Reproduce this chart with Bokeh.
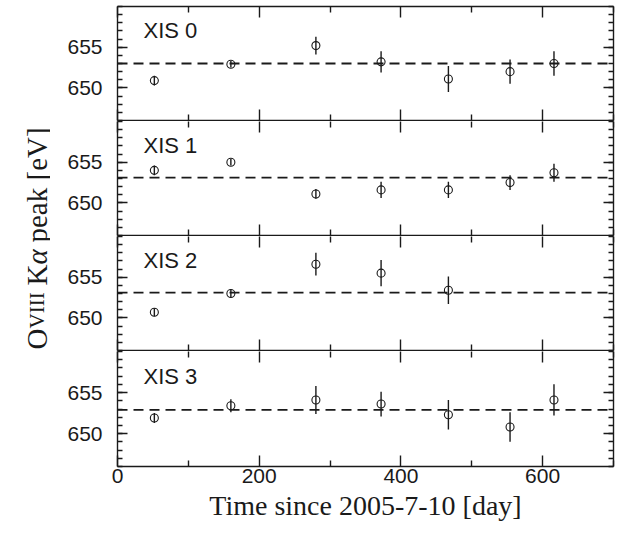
from math import pi
from bokeh.plotting import figure
from bokeh.layouts import row, column
from bokeh.models import ColumnDataSource, Span, Label, LinearAxis, FixedTicker, Range1d
from bokeh.embed import file_html
from bokeh.resources import INLINE

# ---------------- data ----------------
days = [52, 160, 280, 372, 467, 554, 616]
detectors = ["XIS 0", "XIS 1", "XIS 2", "XIS 3"]

xis0_peak = [650.9, 652.9, 655.2, 653.2, 651.1, 652.0, 653.0]
xis0_err = [0.6, 0.4, 1.1, 1.3, 1.6, 1.5, 1.5]
xis1_peak = [654.0, 655.0, 651.1, 651.6, 651.6, 652.5, 653.7]
xis1_err = [0.6, 0.4, 0.6, 1.0, 1.0, 0.9, 1.1]
xis2_peak = [650.7, 653.0, 656.6, 655.5, 653.4]
xis2_err = [0.5, 0.5, 1.4, 1.6, 1.7]
xis3_peak = [651.9, 653.4, 654.1, 653.6, 652.3, 650.8, 654.1]
xis3_err = [0.6, 0.8, 1.7, 1.5, 1.8, 1.8, 1.9]

mean_peak = [653.0, 653.1, 653.1, 652.9]

x_major = [0, 200, 400, 600]
x_minor = [100, 300, 500, 700]
y_major = [650, 655]
y_minor = list(range(646, 661))
x_lim = (0, 700)
y_lim = (646, 660)

series = [
    (xis0_peak, xis0_err),
    (xis1_peak, xis1_err),
    (xis2_peak, xis2_err),
    (xis3_peak, xis3_err),
]

# ---------------- layout constants ----------------
LABEL_W = 50
FRAME_W = 496
FRAME_H = 114
LEFT = 117 - LABEL_W
RIGHT = 618 - LABEL_W - LEFT - FRAME_W
INK = "#1a1a1a"
LW = 1.4
TW = 1.4

shared_x = Range1d(*x_lim)


def tick_only_axis(positions, length, draw_line):
    """Axis that only draws inward ticks (as minor ticks, so no labels)."""
    ax = LinearAxis(ticker=FixedTicker(ticks=[], minor_ticks=positions))
    ax.axis_line_color = INK if draw_line else None
    ax.axis_line_width = LW
    ax.major_tick_line_color = None
    ax.major_tick_in = 0
    ax.major_tick_out = 0
    ax.minor_tick_line_color = INK
    ax.minor_tick_line_width = TW
    ax.minor_tick_in = length
    ax.minor_tick_out = 0
    ax.major_label_standoff = 0
    return ax


def labelled_axis(ticker, major_in, minor_in):
    ax = LinearAxis(ticker=ticker)
    ax.axis_line_width = LW
    ax.axis_line_color = INK
    ax.major_tick_line_color = INK
    ax.minor_tick_line_color = INK
    ax.major_tick_line_width = TW
    ax.minor_tick_line_width = TW
    ax.major_tick_in = major_in
    ax.major_tick_out = 0
    ax.minor_tick_in = minor_in
    ax.minor_tick_out = 0
    ax.major_label_text_font = "Liberation Sans"
    ax.major_label_text_font_size = "21px"
    ax.major_label_text_color = INK
    return ax


panels = []
for i, (name, (peak, err), mean) in enumerate(zip(detectors, series, mean_peak)):
    first = i == 0
    last = i == len(detectors) - 1
    p = figure(frame_width=FRAME_W, frame_height=FRAME_H + (1 if last else 0),
               x_range=shared_x, y_range=Range1d(*y_lim),
               x_axis_location=None, y_axis_location=None,
               output_backend="svg", toolbar_location=None,
               min_border_left=LEFT, min_border_right=RIGHT,
               min_border_top=6 if first else 0,
               min_border_bottom=73 if last else 1,
               background_fill_color="white", border_fill_color="white",
               outline_line_color=None)
    p.grid.visible = False

    # left: labelled y axis
    left = labelled_axis(FixedTicker(ticks=y_major, minor_ticks=y_minor), 10, 5)
    left.major_label_standoff = 15
    p.add_layout(left, "left")

    # right: ticks only
    p.add_layout(tick_only_axis(y_major, 10, True), "right")
    p.add_layout(tick_only_axis(y_minor, 5, False), "right")

    # top: ticks only (line only on the very top panel)
    p.add_layout(tick_only_axis(x_major, 11, first), "above")
    p.add_layout(tick_only_axis(x_minor, 6, False), "above")

    # bottom
    if last:
        below = labelled_axis(FixedTicker(ticks=x_major, minor_ticks=x_minor), 11, 6)
        below.major_label_standoff = 2
        below.axis_label = "Time since 2005-7-10 [day]"
        below.axis_label_text_font = "Liberation Serif"
        below.axis_label_text_font_size = "28px"
        below.axis_label_text_font_style = "normal"
        below.axis_label_text_color = INK
        below.axis_label_standoff = 4
        p.add_layout(below, "below")
    else:
        p.add_layout(tick_only_axis(x_major, 11, True), "below")
        p.add_layout(tick_only_axis(x_minor, 6, False), "below")

    n = len(peak)
    src = ColumnDataSource(dict(
        day=days[:n], peak=peak,
        lo=[v - e for v, e in zip(peak, err)],
        hi=[v + e for v, e in zip(peak, err)],
    ))
    p.add_layout(Span(location=mean, dimension="width", line_color=INK,
                      line_width=1.8, line_dash="10 6"))
    p.segment(x0="day", y0="lo", x1="day", y1="hi", source=src,
              line_color=INK, line_width=1.4)
    p.scatter(x="day", y="peak", source=src, marker="circle", size=8,
              fill_color=None, line_color=INK, line_width=1.1)

    p.add_layout(Label(x=26, y=FRAME_H - 24, x_units="screen", y_units="screen",
                       text=name, text_font="Liberation Sans",
                       text_font_size="22px", text_color=INK,
                       text_baseline="middle", text_align="left"))
    panels.append(p)

# y-axis title in its own narrow canvas
lab = figure(width=LABEL_W, height=539, x_axis_location=None, y_axis_location=None,
             output_backend="svg", toolbar_location=None, min_border=0,
             outline_line_color=None, background_fill_color="white",
             border_fill_color="white")
lab.grid.visible = False
BASE_X = 36
pieces = [
    ("O", 190, "29px", "normal"),
    ("VIII", 211, "21px", "normal"),
    ("K", 254, "29px", "normal"),
    ("α", 275, "29px", "italic"),
    ("peak [eV]", 297, "29px", "normal"),
]
for txt, ypos, size, style in pieces:
    lab.add_layout(Label(x=BASE_X, y=ypos, x_units="screen", y_units="screen",
                         text=txt, angle=pi / 2, text_font="Liberation Serif",
                         text_font_size=size, text_font_style=style,
                         text_color=INK, text_align="left",
                         text_baseline="alphabetic"))

layout = row(lab, column(*panels))
open("out.html", "w").write(file_html(layout, INLINE))
